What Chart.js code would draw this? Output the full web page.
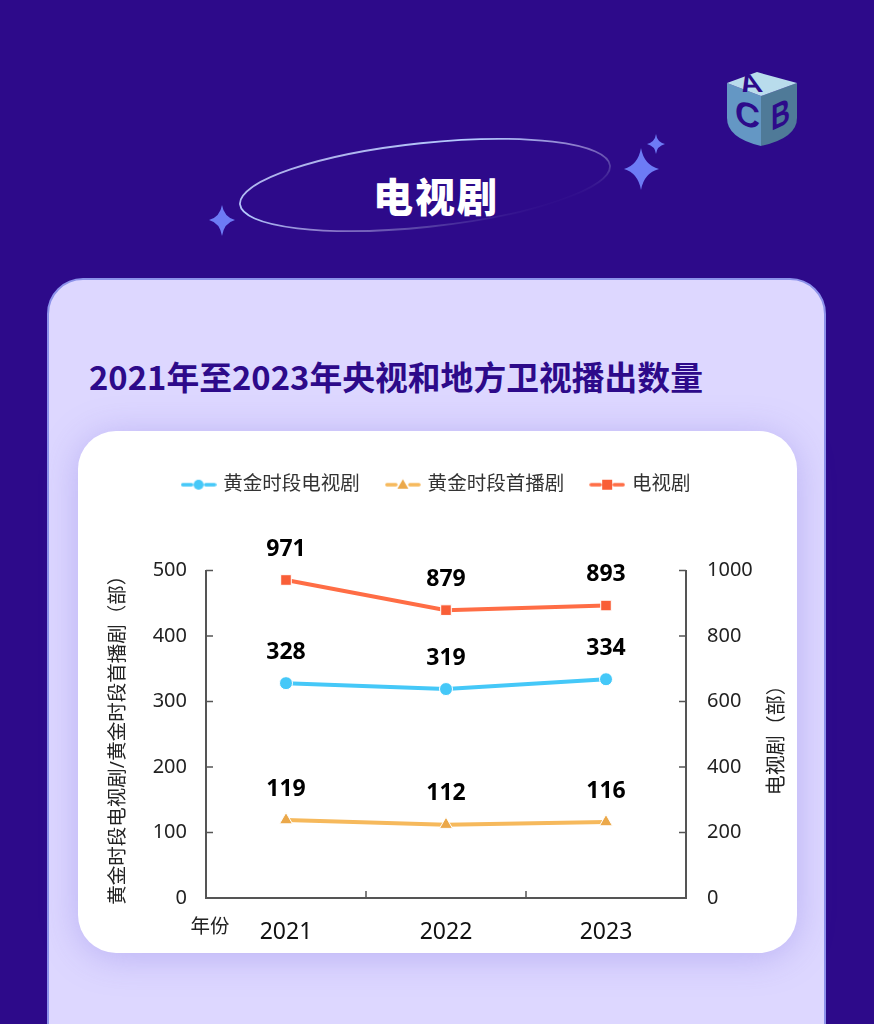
<!DOCTYPE html>
<html lang="zh">
<head>
<meta charset="utf-8">
<title>电视剧</title>
<script src="https://cdn.jsdelivr.net/npm/chart.js@4/dist/chart.umd.min.js"></script>
<style>
  html, body { margin: 0; padding: 0; }
  body {
    width: 874px; height: 1024px; position: relative; overflow: hidden;
    background: #2d0a8a;
    font-family: "Noto Sans", "Noto Sans CJK SC", sans-serif;
  }
  #deco { position: absolute; left: 0; top: 0; }
  #heading {
    position: absolute; left: 336px; top: 168px; width: 200px; text-align: center;
    color: #fff; font: 900 40px/54px "Noto Sans CJK SC", sans-serif; letter-spacing: 2px;
  }
  #panel {
    position: absolute; left: 47px; top: 278px; width: 775px; height: 800px;
    background: #ddd7ff; border: 2px solid #8c92ea; border-radius: 36px;
  }
  #panel-title {
    position: absolute; left: 89px; top: 352px; white-space: nowrap;
    color: #2d0a8a; font: 700 32.8px/48px "Noto Sans CJK SC", sans-serif;
  }
  #card {
    position: absolute; left: 78px; top: 431px; width: 719px; height: 522px;
    background: #fff; border-radius: 38px; box-shadow: 0 4px 36px rgba(130, 115, 225, .38);
  }
  #chart { position: absolute; left: 0; top: 0; }
</style>
</head>
<body>
<svg id="deco" width="874" height="280" viewBox="0 0 874 280">
  <defs>
    <linearGradient id="ring" x1="0" y1="0" x2="1" y2="1">
      <stop offset="0" stop-color="#a89fdc"/>
      <stop offset=".32" stop-color="#b5ccff"/>
      <stop offset=".58" stop-color="#8a78c9"/>
      <stop offset=".72" stop-color="#5f4bab"/>
      <stop offset=".86" stop-color="#2d0a8a"/>
    </linearGradient>
  </defs>
  <ellipse cx="425" cy="185" rx="186" ry="42" transform="rotate(-6 425 185)" fill="none" stroke="url(#ring)" stroke-width="1.8"/>
  <g fill="#6d7bf5">
    <path d="M641 148 Q644 165 659 169 Q644 173 641 190 Q638 173 624 169 Q638 165 641 148Z"/>
    <path d="M656 134 Q657 142 665 144 Q657 146 656 154 Q655 146 647 144 Q655 142 656 134Z"/>
    <path d="M222 205 Q224 217 235 220 Q224 223 222 236 Q220 223 209 220 Q220 217 222 205Z"/>
  </g>
  <g>
    <path d="M727 83 L761 96 L761 146 Q727 138 727 118Z" fill="#6497c4"/>
    <path d="M797 83 L761 96 L761 146 Q797 138 797 118Z" fill="#4f7a98"/>
    <path d="M727 83 L757 72 L797 83 L761 96Z" fill="#b9dcec"/>
    <text transform="matrix(1 0 .25 .85 742 92)" font-family="Liberation Sans" font-weight="700" font-size="30" fill="#2d0a8a">A</text>
    <text transform="translate(735 123) skewY(15)" font-family="Liberation Sans" font-weight="700" font-size="34" fill="#2d0a8a" textLength="25" lengthAdjust="spacingAndGlyphs">C</text>
    <text transform="translate(771 131) skewY(-25)" font-family="Liberation Sans" font-weight="700" font-size="36" fill="#2d0a8a" textLength="19" lengthAdjust="spacingAndGlyphs">B</text>
  </g>
</svg>
<div id="heading">电视剧</div>
<div id="panel"></div>
<div id="panel-title">2021年至2023年央视和地方卫视播出数量</div>
<div id="card"></div>
<canvas id="chart" width="874" height="1024"></canvas>

<script>
const years = ["2021", "2022", "2023"];
const primeTimeDramas = [328, 319, 334];
const primeTimePremieres = [119, 112, 116];
const tvDramas = [971, 879, 893];
const leftTicks = [0, 100, 200, 300, 400, 500];
const rightTicks = [0, 200, 400, 600, 800, 1000];

const blue = "#45c8f8";
const orange = "#f6b95c";
const orangeMark = "#eba84a";
const red = "#ff6d45";
const redMark = "#f95e37";
const axisColor = "#555555";
const fontFamily = '"Noto Sans", "Noto Sans CJK SC", sans-serif';

// Legend icon: dash, marker, dash
function legendIcon(lineColor, markColor, shape) {
  const c = document.createElement("canvas");
  c.width = 36;
  c.height = 16;
  const g = c.getContext("2d");
  g.strokeStyle = lineColor;
  g.lineWidth = 3.5;
  g.lineCap = "round";
  g.beginPath();
  g.moveTo(2, 8); g.lineTo(11, 8);
  g.moveTo(25, 8); g.lineTo(34, 8);
  g.stroke();
  g.fillStyle = markColor;
  g.beginPath();
  if (shape === "circle") g.arc(18, 8, 5, 0, Math.PI * 2);
  if (shape === "triangle") { g.moveTo(18, 2.5); g.lineTo(23.5, 12); g.lineTo(12.5, 12); }
  if (shape === "rect") g.rect(13, 3, 10, 10);
  g.fill();
  return c;
}
const legendIcons = [
  legendIcon(blue, blue, "circle"),
  legendIcon(orange, orangeMark, "triangle"),
  legendIcon(red, redMark, "rect"),
];

// Pushes the plot down from the legend
const legendGap = {
  id: "legendGap",
  beforeInit(chart) {
    const fit = chart.legend.fit;
    chart.legend.fit = function () {
      fit.call(this);
      this.height += 66;
    };
  },
};

// Ticks point into the plot, so they are drawn here
const inwardTicks = {
  id: "inwardTicks",
  afterDatasetsDraw(chart) {
    const { ctx, scales } = chart;
    const len = 7;
    ctx.save();
    ctx.strokeStyle = axisColor;
    ctx.lineWidth = 1.5;
    ctx.beginPath();
    scales.y.ticks.forEach((t) => {
      const p = scales.y.getPixelForValue(t.value);
      ctx.moveTo(scales.y.right, p);
      ctx.lineTo(scales.y.right + len, p);
    });
    scales.y2.ticks.forEach((t) => {
      const p = scales.y2.getPixelForValue(t.value);
      ctx.moveTo(scales.y2.left, p);
      ctx.lineTo(scales.y2.left - len, p);
    });
    for (let i = 0; i < years.length - 1; i++) {
      const p = (scales.x.getPixelForValue(i) + scales.x.getPixelForValue(i + 1)) / 2;
      ctx.moveTo(p, scales.x.top);
      ctx.lineTo(p, scales.x.top - len);
    }
    ctx.stroke();
    ctx.restore();
  },
};

// Bold values above each point
const valueLabels = {
  id: "valueLabels",
  afterDatasetsDraw(chart) {
    const { ctx } = chart;
    ctx.save();
    ctx.font = "700 23px " + fontFamily;
    ctx.fillStyle = "#000";
    ctx.textAlign = "center";
    ctx.textBaseline = "middle";
    chart.data.datasets.forEach((ds, i) => {
      chart.getDatasetMeta(i).data.forEach((pt, j) => {
        ctx.fillText(ds.data[j], pt.x, pt.y - 31);
      });
    });
    ctx.restore();
  },
};

// Axis titles: the right one reads upward, which scale titles can't do
const axisTitles = {
  id: "axisTitles",
  afterDraw(chart) {
    const { ctx, chartArea } = chart;
    const mid = (chartArea.top + chartArea.bottom) / 2;
    const rotated = (text, x, y) => {
      ctx.save();
      ctx.translate(x, y);
      ctx.rotate(-Math.PI / 2);
      ctx.fillText(text, 0, 0);
      ctx.restore();
    };
    ctx.save();
    ctx.fillStyle = "#222";
    ctx.textAlign = "center";
    ctx.textBaseline = "middle";
    ctx.font = "19.5px " + fontFamily;
    rotated("黄金时段电视剧/黄金时段首播剧（部）", chartArea.left - 88, mid + 1);
    ctx.font = "20px " + fontFamily;
    rotated("电视剧（部）", chartArea.right + 91, mid + 1);
    ctx.font = "19.5px " + fontFamily;
    ctx.fillText("年份", chartArea.left + 4, chartArea.bottom + 29);
    ctx.restore();
  },
};

function lineSet(label, data, color, markColor, shape, radius, axis) {
  return {
    label, data,
    yAxisID: axis,
    borderColor: color,
    backgroundColor: markColor,
    borderWidth: 4,
    tension: 0,
    pointStyle: shape,
    pointRadius: radius,
    pointHoverRadius: radius,
    pointBackgroundColor: markColor,
    pointBorderColor: "#ffffff",
    pointBorderWidth: 1,
  };
}

new Chart(document.getElementById("chart"), {
  type: "line",
  data: {
    labels: years,
    datasets: [
      lineSet("黄金时段电视剧", primeTimeDramas, blue, blue, "circle", 6.5, "y"),
      lineSet("黄金时段首播剧", primeTimePremieres, orange, orangeMark, "triangle", 7.5, "y"),
      lineSet("电视剧", tvDramas, red, redMark, "rect", 7.5, "y2"),
    ],
  },
  plugins: [legendGap, inwardTicks, valueLabels, axisTitles],
  options: {
    responsive: false,
    animation: false,
    layout: { padding: { top: 447, left: 90, right: 90, bottom: 66 } },
    plugins: {
      tooltip: { enabled: false },
      legend: {
        position: "top",
        labels: {
          usePointStyle: true,
          pointStyleWidth: 30,
          padding: 28,
          color: "#333",
          font: { family: fontFamily, size: 19.5 },
          generateLabels(chart) {
            const items = Chart.defaults.plugins.legend.labels.generateLabels(chart);
            items.forEach((item, i) => { item.pointStyle = legendIcons[i]; });
            return items;
          },
        },
      },
    },
    scales: {
      x: {
        offset: true,
        grid: { display: false },
        border: { color: axisColor, width: 2 },
        ticks: { color: "#111", padding: 13, maxRotation: 0, font: { family: fontFamily, size: 23 } },
        afterFit(scale) { scale.height = 60; },
      },
      y: {
        position: "left",
        min: 0,
        max: leftTicks[leftTicks.length - 1],
        grid: { display: false },
        border: { color: axisColor, width: 2 },
        afterBuildTicks(scale) { scale.ticks = leftTicks.map((value) => ({ value })); },
        ticks: { color: "#222", padding: 11, font: { family: fontFamily, size: 20 }, callback: (v) => String(v) },
        afterFit(scale) { scale.width = 116; },
      },
      y2: {
        position: "right",
        min: 0,
        max: rightTicks[rightTicks.length - 1],
        grid: { display: false },
        border: { color: axisColor, width: 2 },
        afterBuildTicks(scale) { scale.ticks = rightTicks.map((value) => ({ value })); },
        ticks: { color: "#222", padding: 13, font: { family: fontFamily, size: 20 }, callback: (v) => String(v) },
        afterFit(scale) { scale.width = 98; },
      },
    },
  },
});
</script>
</body>
</html>
